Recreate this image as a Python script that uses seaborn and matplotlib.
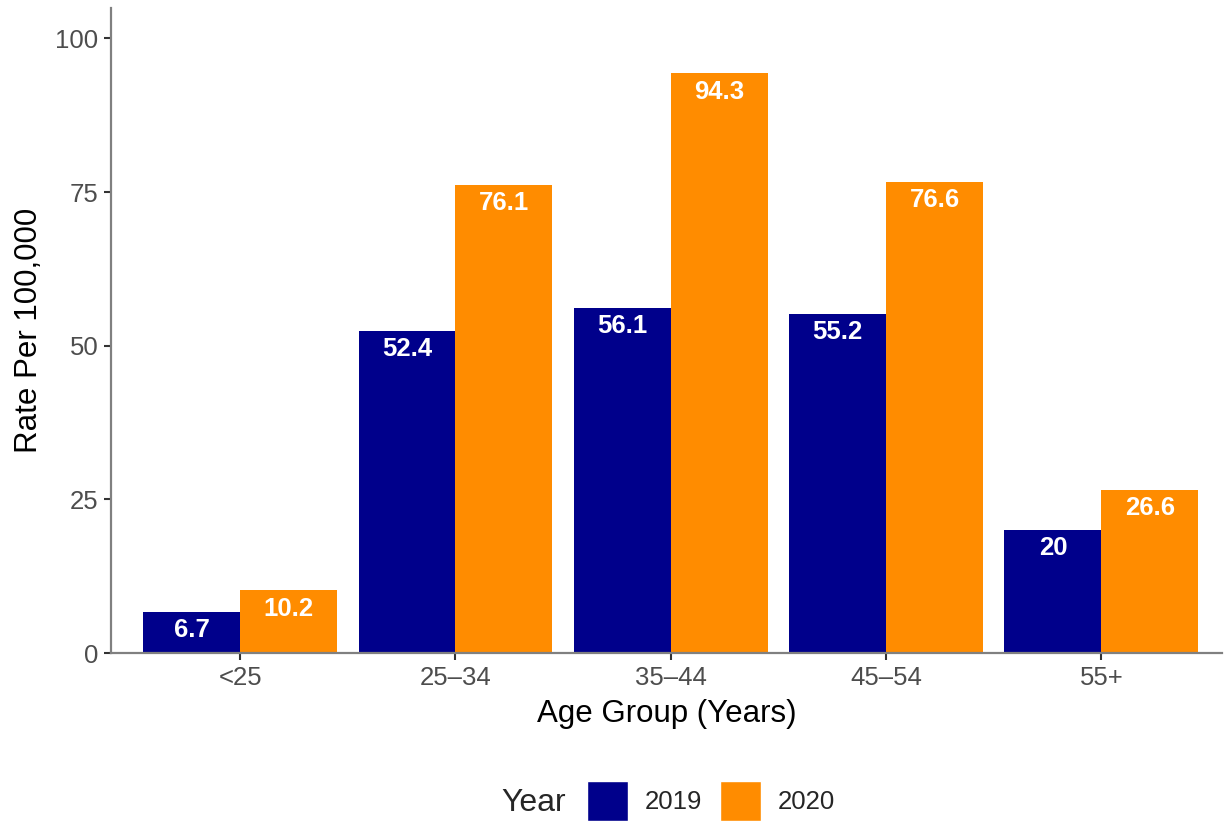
import numpy as np
import pandas as pd
import matplotlib
matplotlib.use("Agg")
import matplotlib.pyplot as plt
from matplotlib.patches import Patch
import seaborn as sns

# data
age_groups = ["<25", "25\u201334", "35\u201344", "45\u201354", "55+"]
rate_2019 = [6.7, 52.4, 56.1, 55.2, 20]
rate_2020 = [10.2, 76.1, 94.3, 76.6, 26.6]
years = ["2019", "2020"]
colors = {"2019": "#00008B", "2020": "#FF8C00"}


def main():
    df = pd.DataFrame({
        "age": age_groups * 2,
        "rate": rate_2019 + rate_2020,
        "year": np.repeat(years, len(age_groups)),
    })

    sns.set_style("white")
    plt.rcParams["font.family"] = ["Liberation Sans", "DejaVu Sans"]

    fig = plt.figure(figsize=(12.26, 8.21), dpi=100)
    ax = fig.add_axes([0.0905, 0.2046, 0.9062, 0.7854])

    sns.barplot(data=df, x="age", y="rate", hue="year", order=age_groups,
                hue_order=years, palette=colors, width=0.9, gap=0,
                saturation=1, legend=False, linewidth=0, ax=ax)

    # value labels inside the top of each bar
    for cont in ax.containers:
        for p in cont:
            h = p.get_height()
            ax.annotate(f"{h:g}", (p.get_x() + p.get_width() / 2, h),
                        xytext=(0, -4.5), textcoords="offset points",
                        ha="center", va="top", color="white",
                        fontsize=18.5, fontweight="bold")

    ax.set_ylim(0, 104.9)
    ax.set_xlim(-0.6, 4.56)
    ax.set_yticks([0, 25, 50, 75, 100])
    ax.set_xlabel("Age Group (Years)", fontsize=22.5, color="black",
                  labelpad=7)
    ax.set_ylabel("Rate Per 100,000", fontsize=22.5, color="black",
                  labelpad=8)
    ax.tick_params(axis="both", labelsize=18.5, labelcolor="#4d4d4d",
                   length=5, width=1.5, color="#333333", pad=4,
                   bottom=True, left=True)

    sns.despine(ax=ax)
    for s in ["left", "bottom"]:
        ax.spines[s].set_color("#808080")
        ax.spines[s].set_linewidth(1.6)

    # legend at bottom with title on the left
    handles = [Patch(facecolor=colors[y], label=y) for y in years]
    fig.legend(handles=handles, loc="center", bbox_to_anchor=(0.580, 0.024),
               ncol=2, frameon=False, fontsize=18.5, handlelength=1.6,
               handleheight=2.0, handletextpad=0.65, columnspacing=0.68)
    fig.text(0.4356, 0.022, "Year", fontsize=23, ha="center", va="center")

    fig.savefig("out.png", dpi=100)


if __name__ == "__main__":
    main()
